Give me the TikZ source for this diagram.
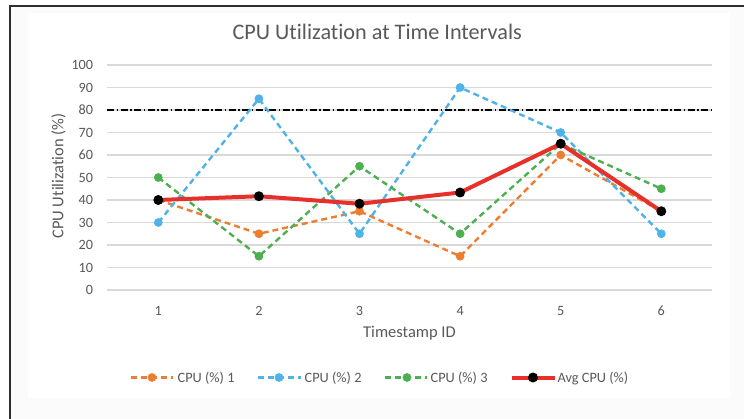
\documentclass[tikz,border=0pt]{standalone}
\usepackage{fontspec}
\setmainfont{Carlito}[Ligatures=NoCommon]
\definecolor{cpuone}{HTML}{ED7D31}
\definecolor{cputwo}{HTML}{4FB3EA}
\definecolor{cputhree}{HTML}{4CAF50}
\definecolor{avgred}{HTML}{E8302A}
\definecolor{txtgray}{HTML}{595959}
\definecolor{gridgray}{HTML}{D9D9D9}
\definecolor{paneloff}{HTML}{FBFBFB}
\definecolor{framegray}{HTML}{2E2E2E}

\begin{document}
\begin{tikzpicture}[x=1pt,y=-1pt,
  gridline/.style={gridgray, line width=1.1pt},
  series/.style={line width=2.4pt, dash pattern=on 6pt off 4pt, line join=round},
  avgline/.style={avgred, line width=4pt, line join=round, line cap=round},
  threshold/.style={black, line width=1.4pt, dash pattern=on 7pt off 2.5pt on 1.5pt off 2.5pt},
  ticklabel/.style={txtgray, font=\fontsize{14.2}{16}\selectfont, inner sep=0pt},
  axistitle/.style={txtgray, font=\fontsize{16.5}{19}\selectfont, inner sep=0pt},
  legendtext/.style={txtgray, font=\fontsize{14.3}{16}\selectfont, inner sep=0pt, anchor=base west},
]
\useasboundingbox (0,0) rectangle (744,419);

% panel background and frame
\fill[paneloff] (10,6) rectangle (744,419);
\fill[white] (28,13) rectangle (730,398);
\draw[framegray, line width=2pt] (10,419) -- (10,6) -- (744,6);

% title
\node[txtgray, font=\fontsize{22.2}{26}\selectfont, inner sep=0pt, anchor=base] (title) at (377.2,39.3) {CPU Utilization at Time Intervals};

% horizontal gridlines and value labels
\foreach \v in {0,10,...,100} {
  \draw[gridline] (107.3,{290-2.25*\v}) -- (712,{290-2.25*\v});
  \node[ticklabel, anchor=base east] (ylab\v) at (93.3,{290-2.25*\v+4.6}) {\v};
}

% category labels
\foreach \i in {1,...,6} {
  \node[ticklabel, anchor=base] (xlab\i) at ({158.3+(\i-1)*100.6},315.3) {\i};
}

% axis titles
\node[axistitle, anchor=base] (xtitle) at (409.5,338) {Timestamp ID};
\node[axistitle, anchor=base, rotate=90] (ytitle) at (63.3,176) {CPU Utilization (\%)};

% threshold at 80
\coordinate (thA) at (107.3,110);
\coordinate (thB) at (712,110);
\draw[threshold] (thA) -- (thB);

% data points
\foreach \v [count=\i] in {40,25,35,15,60,35}
  \coordinate (a\i) at ({158.3+(\i-1)*100.6},{290-2.25*\v});
\foreach \v [count=\i] in {30,85,25,90,70,25}
  \coordinate (b\i) at ({158.3+(\i-1)*100.6},{290-2.25*\v});
\foreach \v [count=\i] in {50,15,55,25,65,45}
  \coordinate (c\i) at ({158.3+(\i-1)*100.6},{290-2.25*\v});
\foreach \v [count=\i] in {40,41.667,38.333,43.333,65,35}
  \coordinate (m\i) at ({158.3+(\i-1)*100.6},{290-2.25*\v});

% series 1
\draw[series, cpuone] (a1) -- (a2) -- (a3) -- (a4) -- (a5) -- (a6);
\foreach \i in {1,...,6} \fill[cpuone] (a\i) circle[radius=4.4pt];
% series 2
\draw[series, cputwo] (b1) -- (b2) -- (b3) -- (b4) -- (b5) -- (b6);
\foreach \i in {1,...,6} \fill[cputwo] (b\i) circle[radius=4.4pt];
% series 3
\draw[series, cputhree] (c1) -- (c2) -- (c3) -- (c4) -- (c5) -- (c6);
\foreach \i in {1,...,6} \fill[cputhree] (c\i) circle[radius=4.4pt];
% average
\draw[avgline] (m1) -- (m2) -- (m3) -- (m4) -- (m5) -- (m6);
\foreach \i in {1,...,6} \fill[black] (m\i) circle[radius=5pt];

% legend
\coordinate (la1) at (131,377.5); \coordinate (la2) at (173,377.5);
\draw[series, cpuone] (la1) -- (la2);
\fill[cpuone] (152,377.5) circle[radius=4.4pt];
\node[legendtext] (lega) at (177.5,382) {CPU (\%) 1};

\coordinate (lb1) at (258,377.5); \coordinate (lb2) at (301,377.5);
\draw[series, cputwo] (lb1) -- (lb2);
\fill[cputwo] (279,377.5) circle[radius=4.4pt];
\node[legendtext] (legb) at (304.5,382) {CPU (\%) 2};

\coordinate (lc1) at (385,377.5); \coordinate (lc2) at (427,377.5);
\draw[series, cputhree] (lc1) -- (lc2);
\fill[cputhree] (407,377.5) circle[radius=4.4pt];
\node[legendtext] (legc) at (430.5,382) {CPU (\%) 3};

\coordinate (ld1) at (512,377.5); \coordinate (ld2) at (555,377.5);
\draw[avgred, line width=4pt] (ld1) -- (ld2);
\fill[black] (533,377.5) circle[radius=5pt];
\node[legendtext] (legd) at (557.5,382) {Avg CPU (\%)};
\end{tikzpicture}
\end{document}
